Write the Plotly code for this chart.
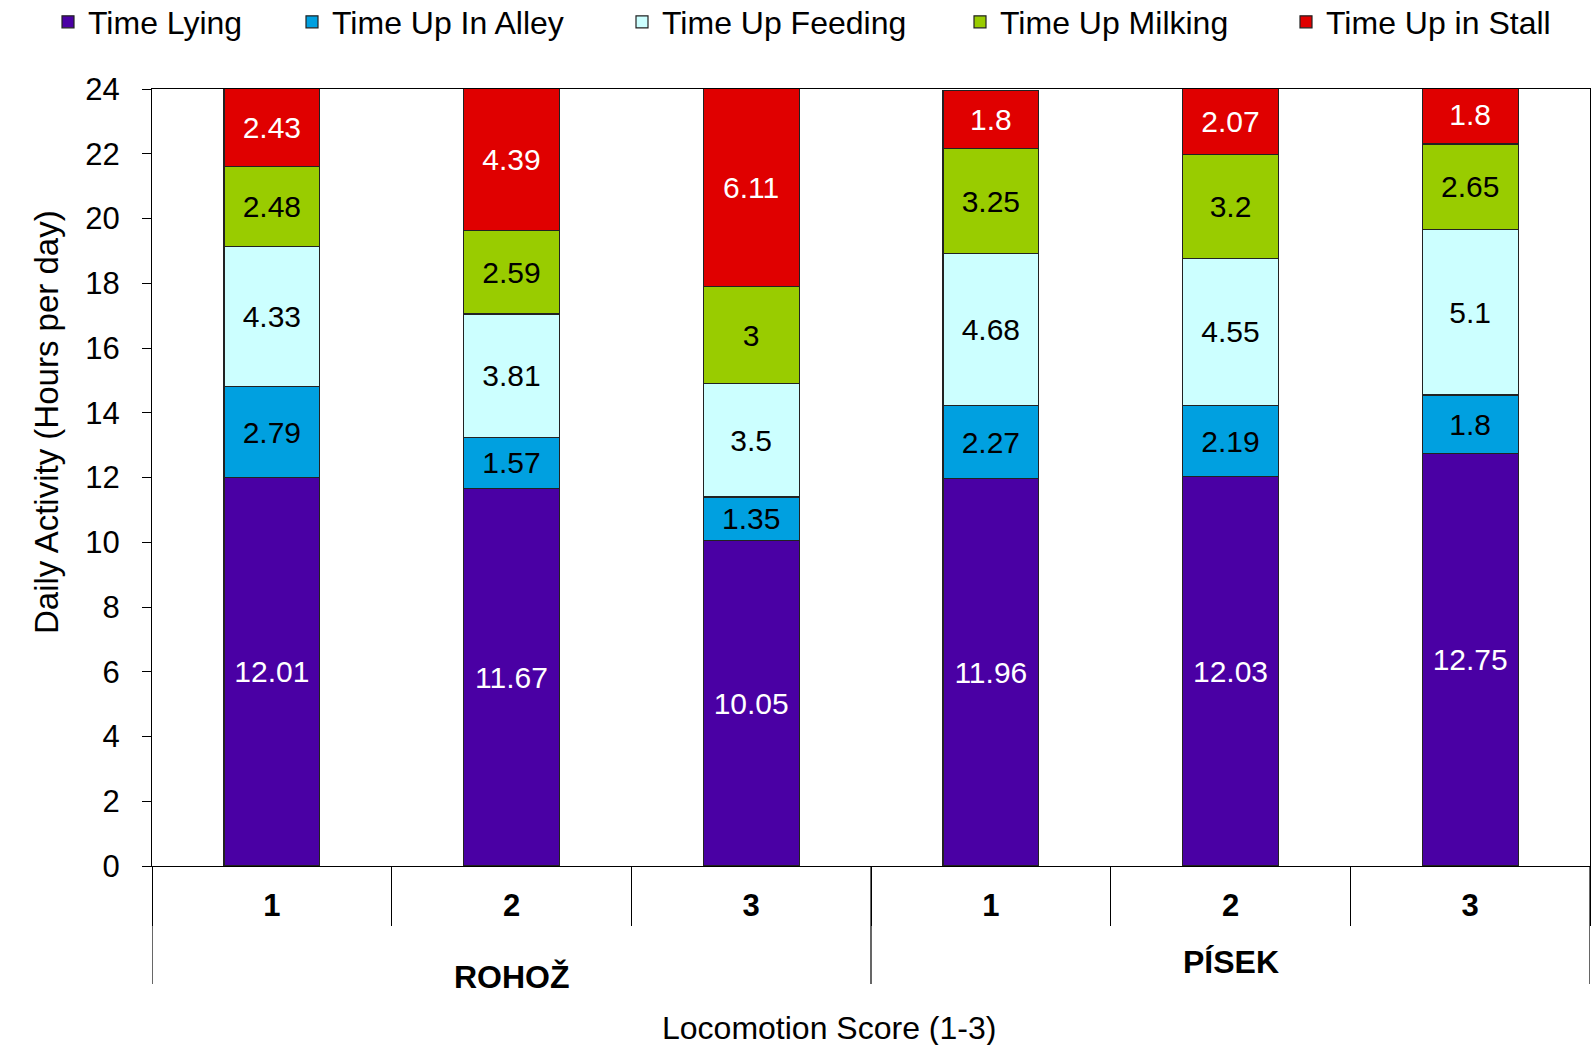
import plotly.graph_objects as go

groups = ["ROHOŽ", "ROHOŽ", "ROHOŽ", "PÍSEK", "PÍSEK", "PÍSEK"]
scores = ["1", "2", "3", "1", "2", "3"]
categories = [f"{g} {s}" for g, s in zip(groups, scores)]

series_names = ["Time Lying", "Time Up In Alley", "Time Up Feeding", "Time Up Milking", "Time Up in Stall"]
lying = [12.01, 11.67, 10.05, 11.96, 12.03, 12.75]
alley = [2.79, 1.57, 1.35, 2.27, 2.19, 1.8]
feeding = [4.33, 3.81, 3.5, 4.68, 4.55, 5.1]
milking = [2.48, 2.59, 3, 3.25, 3.2, 2.65]
stall = [2.43, 4.39, 6.11, 1.8, 2.07, 1.8]
series_values = [lying, alley, feeding, milking, stall]

colors = ["#4a00a4", "#00a0e0", "#ccffff", "#99cc00", "#e00000"]
text_colors = ["white", "black", "black", "black", "white"]

y_ticks = list(range(0, 25, 2))
FONT = "Liberation Sans, Arial, sans-serif"

W, H = 1591, 1045
L, R, T, B = 152, 1, 89, 179
ph = H - T - B
pw = W - L - R

def py(pix):
    return (H - B - pix) / ph

def px(pix):
    return (pix - L) / pw

legend_text_starts = [88, 332, 662, 1000, 1326]
legend_ids = ["legend"] + [f"legend{i}" for i in range(2, len(series_names) + 1)]

fig = go.Figure()
for name, vals, col, tcol, lid in zip(series_names, series_values, colors, text_colors, legend_ids):
    fig.add_trace(go.Bar(
        x=categories, y=vals, name=name, legend=lid,
        marker=dict(color=col, line=dict(color="#222222", width=1.2)),
        text=[f"{v:g}" for v in vals],
        textposition="inside", insidetextanchor="middle", textangle=0,
        constraintext="none",
        textfont=dict(color=tcol, size=30, family=FONT),
        width=0.4,
    ))

n = len(categories)
shapes = []
bounds = [-0.5]
for i in range(1, n):
    if groups[i] != groups[i - 1]:
        bounds.append(i - 0.5)
bounds.append(n - 0.5)
for b in bounds:
    shapes.append(dict(type="line", xref="x", yref="paper", x0=b, x1=b,
                       y0=0, y1=py(984), line=dict(color="black", width=1.2)))

annotations = []
group_label_y = {"ROHOŽ": 977, "PÍSEK": 962}
for g in dict.fromkeys(groups):
    idx = [i for i, gg in enumerate(groups) if gg == g]
    annotations.append(dict(text=f"<b>{g}</b>", xref="x", yref="paper",
                            x=sum(idx) / len(idx), y=py(group_label_y[g]),
                            yanchor="middle", showarrow=False,
                            font=dict(size=32, family=FONT, color="black")))
annotations.append(dict(text="Locomotion Score (1-3)", xref="paper", yref="paper",
                        x=px(829), y=py(1028), yanchor="middle", showarrow=False,
                        font=dict(size=32, family=FONT, color="black")))
annotations.append(dict(text="Daily Activity (Hours per day)", xref="paper", yref="paper",
                        x=px(46), y=py(422), xanchor="center", yanchor="middle",
                        textangle=-90, showarrow=False,
                        font=dict(size=33, family=FONT, color="black")))

legends = {}
for lid, ts in zip(legend_ids, legend_text_starts):
    legends[lid] = dict(orientation="h", x=px(ts - 40), xanchor="left",
                        y=py(22), yanchor="middle", font=dict(size=32, family=FONT, color="black"),
                        bgcolor="rgba(0,0,0,0)")

fig.update_layout(
    width=W, height=H,
    margin=dict(l=L, r=R, t=T, b=B, autoexpand=False),
    barmode="stack",
    plot_bgcolor="white", paper_bgcolor="white",
    font=dict(family=FONT, size=30, color="black"),
    showlegend=True,
    shapes=shapes,
    annotations=annotations,
    **legends,
)
fig.update_xaxes(
    type="category", tickvals=categories, ticktext=scores,
    range=[-0.5, n - 0.5],
    ticks="outside", tickson="boundaries", ticklen=59, tickcolor="black", tickwidth=1.2,
    ticklabelstandoff=12,
    tickfont=dict(size=31, family=FONT, weight="bold"),
    showline=True, linecolor="black", linewidth=1.2, mirror=True,
    showgrid=False, zeroline=False,
)
fig.update_yaxes(
    range=[0, 24], tickvals=y_ticks,
    ticks="outside", ticklen=9, tickcolor="black", tickwidth=1.2,
    ticklabelstandoff=16,
    tickfont=dict(size=31, family=FONT),
    showline=True, linecolor="black", linewidth=1.2, mirror=True,
    showgrid=False, zeroline=False,
)

fig.write_html("out.html", config={"displayModeBar": False},
               post_script="document.body.style.margin='0px';document.body.style.overflow='hidden';")
